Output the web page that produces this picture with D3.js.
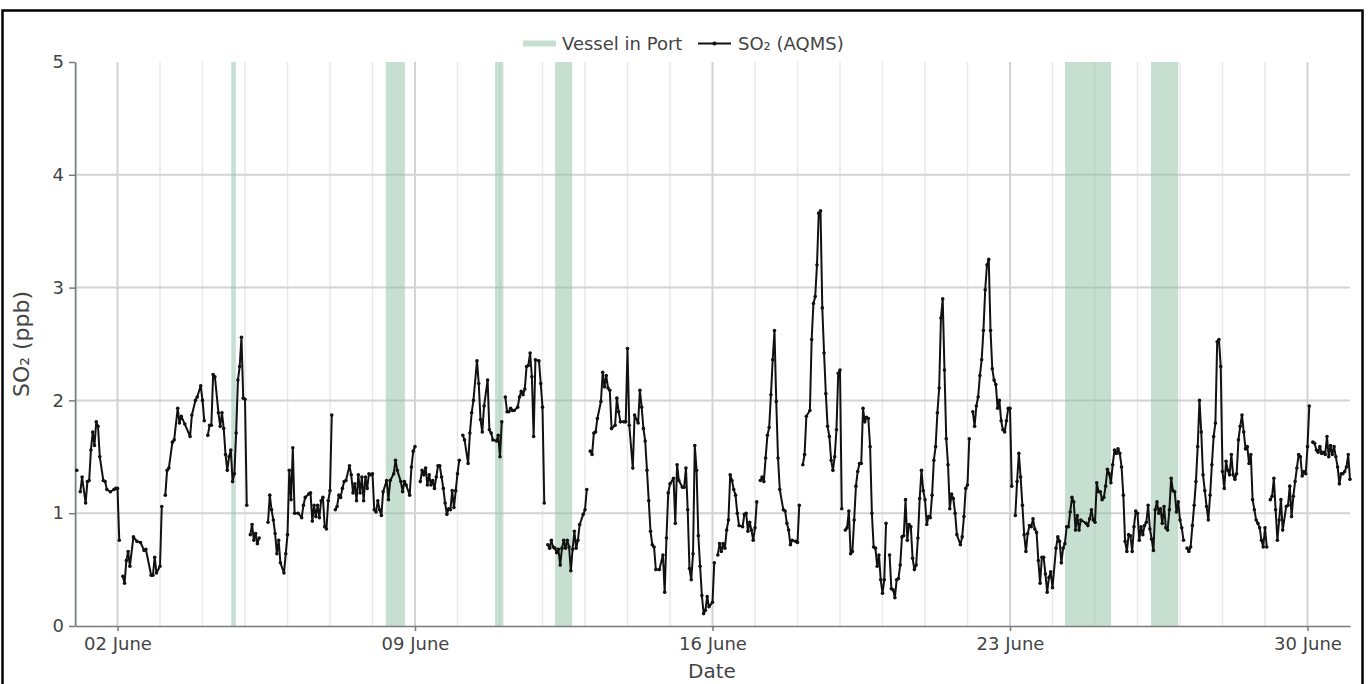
<!DOCTYPE html>
<html><head><meta charset="utf-8">
<script src="https://cdn.jsdelivr.net/npm/d3@7"></script>
<style>html,body{margin:0;padding:0;background:#fff;overflow:hidden}svg{display:block}</style>
</head><body><svg id="chart" width="1368" height="684"></svg>
<script>
// SO2 hourly readings: [hours since 01 June 00:00, ppb]; null = no data (line break)
const so2Readings = [
[1,1.38],[2,null],
[3,1.19],[4,1.32],[6,1.09],[7,1.28],[8,1.29],[9,1.56],[10,1.72],[11,1.60],[12,1.81],[13,1.77],[14,1.50],[16,1.29],[17,1.28],[18,1.21],[20,1.19],[22,1.21],[23,1.22],[24,1.22],[25,0.76],[26,null],
[27,0.44],[28,0.38],[29,0.58],[30,0.66],[31,0.53],[33,0.79],[35,0.75],[37,0.74],[39,0.67],[40,0.68],[43,0.45],[44,0.45],[45,0.61],[46,0.47],[48,0.53],[49,1.06],[50,null],
[51,1.16],[52,1.38],[53,1.40],[55,1.63],[56,1.65],[58,1.93],[59,1.80],[60,1.86],[62,1.79],[65,1.68],[66,1.87],[68,2.00],[69,2.03],[71,2.13],[72,2.00],[73,1.82],[74,null],
[75,1.69],[76,1.78],[77,1.78],[78,2.23],[79,2.21],[81,1.89],[82,1.77],[83,1.89],[84,1.75],[85,1.52],[86,1.38],[87,1.50],[88,1.56],[89,1.28],[90,1.35],[91,1.71],[92,2.18],[93,2.30],[94,2.56],[95,2.02],[96,2.01],[97,1.07],[98,null],
[99,0.81],[100,0.90],[101,0.76],[102,0.82],[103,0.73],[104,0.78],[105,null],
[109,0.92],[110,1.16],[111,1.03],[112,0.94],[113,0.82],[114,0.64],[115,0.76],[116,0.56],[118,0.47],[119,0.64],[120,0.81],[121,1.38],[122,1.12],[123,1.58],[124,1.00],[126,1.00],[128,0.96],[129,1.07],[130,1.14],[132,1.17],[133,1.18],[134,0.93],[135,1.07],[136,0.97],[137,1.07],[138,0.96],[139,1.11],[140,1.14],[141,0.88],[142,0.86],[143,1.11],[144,1.20],[145,1.87],[146,null],
[147,1.03],[148,1.06],[149,1.16],[150,1.14],[151,1.22],[152,1.28],[153,1.29],[155,1.42],[156,1.34],[157,1.18],[158,1.26],[159,1.11],[160,1.34],[161,1.18],[162,1.32],[163,1.11],[164,1.32],[165,1.22],[166,1.35],[167,1.34],[168,1.35],[169,1.03],[170,1.01],[171,1.11],[172,1.03],[173,0.98],[174,1.19],[176,1.29],[177,1.12],[178,1.29],[180,1.35],[181,1.47],[182,1.38],[184,1.28],[185,1.19],[186,1.28],[187,1.25],[189,1.16],[190,1.41],[191,1.55],[192,1.59],[193,null],
[195,1.28],[196,1.38],[197,1.34],[198,1.40],[199,1.25],[200,1.34],[201,1.25],[202,1.29],[203,1.22],[204,1.32],[205,1.42],[206,1.42],[207,1.32],[208,1.22],[209,1.09],[210,0.99],[211,1.04],[212,1.03],[213,1.20],[214,1.05],[215,1.20],[216,1.35],[217,1.47],[218,null],
[219,1.69],[220,1.65],[222,1.44],[223,1.71],[224,1.89],[225,2.00],[227,2.35],[228,2.15],[229,1.83],[230,1.72],[231,1.95],[233,2.18],[234,1.74],[235,1.71],[236,1.65],[238,1.64],[239,1.69],[240,1.50],[241,1.81],[242,null],
[243,2.03],[244,1.90],[245,1.90],[246,1.93],[247,1.91],[248,1.91],[250,1.94],[251,2.03],[252,2.08],[253,2.05],[254,2.10],[255,2.30],[256,2.31],[257,2.42],[258,2.21],[259,1.68],[260,2.36],[262,2.35],[263,2.15],[264,1.94],[265,1.09],[266,null],
[267,0.72],[268,0.69],[269,0.76],[270,0.70],[271,0.69],[272,0.65],[273,0.68],[274,0.54],[275,0.69],[276,0.76],[277,0.69],[278,0.76],[279,0.70],[280,0.49],[281,0.68],[282,0.84],[283,0.69],[284,0.76],[285,0.90],[287,0.99],[288,1.03],[289,1.21],[290,null],
[291,1.55],[292,1.52],[293,1.71],[294,1.72],[295,1.84],[297,1.99],[298,2.25],[299,2.12],[300,2.22],[301,2.11],[302,2.09],[303,1.75],[305,1.78],[306,2.02],[307,1.90],[308,1.81],[310,1.81],[311,1.81],[312,2.46],[313,1.78],[315,1.40],[316,1.87],[318,1.80],[319,2.09],[320,1.94],[321,1.75],[322,1.64],[323,1.38],[324,1.11],[325,0.84],[326,0.72],[327,0.70],[328,0.50],[330,0.50],[332,0.63],[333,0.30],[334,0.78],[335,1.18],[336,1.26],[338,1.31],[339,0.91],[340,1.43],[341,1.29],[343,1.23],[344,1.23],[345,1.40],[346,1.03],[347,0.51],[348,0.41],[349,0.64],[350,1.60],[351,1.38],[352,0.80],[353,0.53],[354,0.27],[355,0.11],[356,0.14],[357,0.26],[358,0.17],[360,0.21],[361,0.56],[362,null],
[363,0.63],[364,0.73],[365,0.66],[366,0.73],[367,0.69],[368,0.85],[369,0.94],[370,1.34],[371,1.29],[372,1.21],[373,1.16],[374,1.00],[375,0.89],[377,0.88],[378,0.99],[379,1.00],[380,0.84],[381,0.92],[382,0.85],[383,0.76],[384,0.87],[385,1.10],[386,null],
[387,1.29],[388,1.32],[389,1.28],[390,1.49],[391,1.69],[392,1.76],[393,2.05],[394,2.36],[395,2.62],[396,1.99],[397,1.49],[398,1.21],[400,1.03],[401,1.02],[402,0.91],[403,0.85],[404,0.72],[405,0.76],[407,0.75],[408,0.74],[409,1.07],[410,null],
[411,1.43],[412,1.52],[413,1.86],[415,1.91],[416,2.54],[417,2.86],[418,2.92],[419,3.20],[420,3.66],[421,3.68],[422,2.82],[423,2.42],[424,2.06],[425,1.77],[426,1.68],[427,1.47],[428,1.38],[429,1.50],[430,1.74],[431,2.24],[432,2.27],[433,1.04],[434,null],
[435,0.85],[436,0.87],[437,1.02],[438,0.64],[439,0.66],[440,0.94],[441,1.24],[442,1.37],[443,1.44],[444,1.44],[445,1.93],[446,1.81],[447,1.85],[448,1.84],[449,1.59],[450,1.00],[451,0.70],[452,0.69],[453,0.53],[454,0.63],[455,0.41],[456,0.29],[457,0.41],[458,0.91],[459,null],
[460,0.63],[461,0.33],[462,0.32],[463,0.25],[464,0.41],[465,0.42],[466,0.54],[467,0.79],[468,0.80],[469,1.12],[470,0.76],[471,0.90],[472,0.88],[473,0.60],[474,0.50],[475,0.54],[476,0.78],[477,1.13],[478,1.38],[479,1.20],[480,1.12],[481,0.90],[482,0.97],[483,0.96],[484,1.16],[485,1.47],[486,1.59],[487,1.89],[488,2.11],[489,2.73],[490,2.90],[491,2.27],[492,1.66],[493,1.43],[494,1.04],[495,1.17],[496,1.13],[497,1.00],[498,0.81],[500,0.72],[501,0.79],[502,0.97],[503,1.22],[504,1.25],[505,1.66],[506,null],
[507,1.90],[508,1.77],[509,1.95],[510,2.03],[511,2.22],[512,2.36],[513,2.62],[514,2.98],[515,3.20],[516,3.25],[517,2.62],[518,2.28],[519,2.18],[520,2.14],[521,1.93],[522,2.00],[523,1.82],[524,1.74],[525,1.72],[526,1.82],[527,1.93],[528,1.93],[529,1.24],[530,null],
[531,0.98],[532,1.28],[533,1.53],[534,1.32],[535,1.07],[536,0.81],[537,0.66],[538,0.82],[539,0.89],[540,0.88],[541,0.95],[542,0.86],[543,0.83],[544,0.58],[545,0.38],[546,0.61],[547,0.61],[548,0.46],[549,0.30],[550,0.43],[551,0.48],[552,0.34],[554,0.69],[555,0.79],[556,0.75],[557,0.56],[558,0.69],[559,0.73],[560,0.88],[561,0.88],[562,1.01],[563,1.14],[564,1.10],[565,0.85],[566,0.98],[567,0.85],[568,0.94],[571,0.91],[572,0.89],[573,0.95],[574,1.03],[575,0.94],[576,0.92],[577,1.27],[578,1.19],[579,1.19],[580,1.12],[581,1.14],[582,1.24],[583,1.39],[584,1.35],[585,1.27],[586,1.43],[587,1.56],[588,1.53],[589,1.57],[590,1.53],[591,1.41],[592,1.16],[593,0.75],[594,0.66],[595,0.81],[596,0.80],[597,0.66],[598,0.88],[599,1.02],[600,1.00],[601,0.76],[602,0.88],[603,0.81],[604,0.89],[605,0.92],[606,1.07],[607,0.86],[608,0.77],[609,0.67],[610,1.03],[611,1.10],[612,1.00],[613,1.04],[614,0.91],[615,1.06],[616,0.87],[617,0.85],[618,1.03],[619,1.31],[620,1.20],[621,1.19],[622,1.01],[623,1.10],[624,0.94],[625,0.87],[626,0.76],[627,null],
[628,0.69],[629,0.66],[630,0.70],[631,0.89],[632,1.07],[633,1.28],[634,1.59],[635,2.00],[636,1.72],[637,1.34],[638,1.20],[639,1.06],[640,0.94],[641,1.16],[642,1.43],[643,1.68],[644,1.80],[645,2.52],[646,2.54],[647,2.30],[648,1.37],[649,1.22],[650,1.46],[651,1.38],[652,1.34],[653,1.52],[654,1.34],[655,1.30],[656,1.35],[657,1.65],[658,1.77],[659,1.87],[660,1.72],[661,1.57],[662,1.59],[663,1.44],[664,1.52],[665,1.12],[666,1.03],[667,0.94],[668,0.91],[669,0.87],[670,0.76],[671,0.70],[672,0.87],[673,0.70],[674,null],
[675,1.12],[676,1.15],[677,1.31],[678,1.03],[679,0.76],[680,0.94],[681,1.12],[682,0.85],[684,1.06],[685,1.07],[686,1.24],[687,0.97],[688,1.15],[689,1.28],[690,1.40],[691,1.52],[692,1.50],[693,1.33],[694,1.37],[695,1.35],[696,1.59],[697,1.95],[698,null],
[699,1.63],[700,1.62],[701,1.56],[702,1.54],[703,1.59],[704,1.53],[705,1.54],[706,1.52],[707,1.68],[708,1.50],[709,1.60],[710,1.52],[711,1.59],[712,1.50],[713,1.41],[714,1.26],[715,1.35],[716,1.35],[717,1.37],[718,1.41],[719,1.52],[720,1.30]
];
// Vessel in port periods (hours since 01 June 00:00)
const vesselStartHours = [0, 88.2, 175.5, 237.2, 271.1, 559.1, 607.6];
const vesselEndHours   = [1.2, 90.8, 186.3, 241.9, 280.8, 585.1, 623.0];
const yTickValues = [0, 1, 2, 3, 4, 5];
const xTickDays = [2, 9, 16, 23, 30];
const xTickLabels = ["02 June", "09 June", "16 June", "23 June", "30 June"];
const legendLabels = ["Vessel in Port", "SO\u2082 (AQMS)"];
const yAxisTitle = "SO\u2082 (ppb)";
const xAxisTitle = "Date";

const FONT = "'DejaVu Sans', Verdana, sans-serif";
const TXT = "#444";
const svg = d3.select('#chart');
const P = {left: 75, right: 1350, top: 62, bottom: 626};
const t0 = Date.UTC(2024, 5, 1);
const hd = h => new Date(t0 + h * 3600e3);
const x = d3.scaleUtc().domain([hd(0), hd(720)]).range([P.left, P.right]);
const y = d3.scaleLinear().domain([0, 5]).range([P.bottom, P.top]);
const weekly = d => xTickDays.includes(d.getUTCDate());

// frame
svg.append('rect').attr('x', 2.5).attr('y', 10.5).attr('width', 1360).attr('height', 720)
  .attr('fill', 'none').attr('stroke', '#000').attr('stroke-width', 2.5);

// vertical grid (daily, weekly darker)
const days = d3.utcDay.range(hd(24), hd(720));
svg.append('g').selectAll('line').data(days).join('line')
  .attr('x1', d => x(d)).attr('x2', d => x(d)).attr('y1', P.top).attr('y2', P.bottom)
  .attr('stroke', d => weekly(d) ? '#d3d3d3' : '#e9e9e9')
  .attr('stroke-width', d => weekly(d) ? 2 : 1.5);
// horizontal grid
svg.append('g').selectAll('line').data(yTickValues.filter(v => v > 0 && v < 5)).join('line')
  .attr('x1', P.left).attr('x2', P.right).attr('y1', d => y(d)).attr('y2', d => y(d))
  .attr('stroke', '#d3d3d3').attr('stroke-width', 2);

// vessel bands
svg.append('g').selectAll('rect').data(vesselStartHours.map((s, i) => [s, vesselEndHours[i]])).join('rect')
  .attr('x', d => x(hd(d[0]))).attr('width', d => x(hd(d[1])) - x(hd(d[0])))
  .attr('y', P.top).attr('height', P.bottom - P.top)
  .attr('fill', '#8fbfa3').attr('fill-opacity', 0.5);

// axes
const xAxis = d3.axisBottom(x)
  .tickValues(xTickDays.map(d => new Date(Date.UTC(2024, 5, d))))
  .tickFormat((d, i) => xTickLabels[i]).tickSize(5).tickSizeOuter(0).tickPadding(6);
const gx = svg.append('g').attr('transform', `translate(0,${P.bottom})`).call(xAxis);
const yAxis = d3.axisLeft(y).tickValues(yTickValues).tickFormat(d3.format('d')).tickSize(6).tickSizeOuter(0).tickPadding(5);
const gy = svg.append('g').attr('transform', `translate(${P.left},0)`).call(yAxis);
[gx, gy].forEach(g => {
  g.select('.domain').attr('stroke', '#7a7a7a').attr('stroke-width', 1.5);
  g.selectAll('.tick line').attr('stroke', '#7a7a7a').attr('stroke-width', 1.5);
  g.selectAll('.tick text').attr('fill', TXT).attr('font-family', FONT).attr('font-size', 18);
});

// line + markers
const line = d3.line().defined(d => d[1] !== null).x(d => x(hd(d[0]))).y(d => y(d[1]));
svg.append('path').datum(so2Readings).attr('d', line)
  .attr('fill', 'none').attr('stroke', '#111').attr('stroke-width', 2).attr('stroke-linejoin', 'round');
svg.append('g').selectAll('circle').data(so2Readings.filter(d => d[1] !== null)).join('circle')
  .attr('cx', d => x(hd(d[0]))).attr('cy', d => y(d[1])).attr('r', 1.8).attr('fill', '#111');

// axis titles
svg.append('text').attr('x', 712).attr('y', 678).attr('text-anchor', 'middle')
  .attr('font-family', FONT).attr('font-size', 20).attr('fill', TXT).text(xAxisTitle);
svg.append('text').attr('transform', 'translate(29,344) rotate(-90)').attr('text-anchor', 'middle')
  .attr('font-family', FONT).attr('font-size', 22).attr('fill', TXT).text(yAxisTitle);

// legend
const lg = svg.append('g');
lg.append('line').attr('x1', 523).attr('x2', 556).attr('y1', 43.5).attr('y2', 43.5)
  .attr('stroke', '#8fbfa3').attr('stroke-opacity', 0.5).attr('stroke-width', 6);
lg.append('text').attr('x', 562).attr('y', 50).attr('font-family', FONT).attr('font-size', 18).attr('fill', TXT).text(legendLabels[0]);
lg.append('line').attr('x1', 698).attr('x2', 731).attr('y1', 43.5).attr('y2', 43.5).attr('stroke', '#111').attr('stroke-width', 2);
lg.append('circle').attr('cx', 714.5).attr('cy', 43.5).attr('r', 2).attr('fill', '#111');
lg.append('text').attr('x', 738).attr('y', 50).attr('font-family', FONT).attr('font-size', 18).attr('fill', TXT).text(legendLabels[1]);
</script></body></html>
